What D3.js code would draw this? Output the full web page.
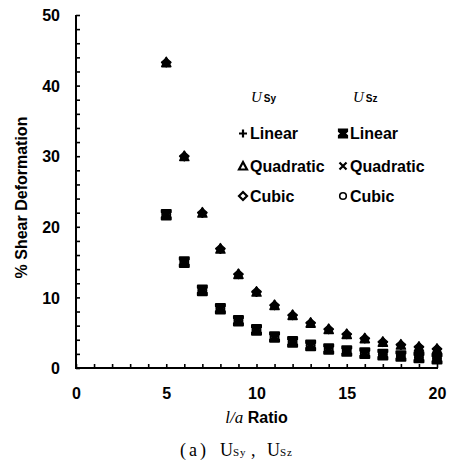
<!DOCTYPE html>
<html>
<head>
<meta charset="utf-8">
<script src="https://cdn.jsdelivr.net/npm/d3@7"></script>
<style>
  html, body { margin: 0; padding: 0; background: #fff; }
  svg { display: block; }
  .sans { font-family: "Liberation Sans", Arial, sans-serif; font-weight: bold; }
  .serif { font-family: "Liberation Serif", "Times New Roman", serif; }
</style>
</head>
<body>
<script>
// l/a ratios
const ratios = [5, 6, 7, 8, 9, 10, 11, 12, 13, 14, 15, 16, 17, 18, 19, 20];
// % shear deformation, U_Sy (linear, quadratic and cubic coincide)
const usy = [43.3, 30.0, 22.0, 16.9, 13.3, 10.8, 8.9, 7.5, 6.4, 5.5, 4.8, 4.2, 3.7, 3.3, 3.0, 2.7];
// % shear deformation, U_Sz (linear, quadratic and cubic coincide)
const usz = [21.7, 15.0, 11.0, 8.4, 6.7, 5.4, 4.4, 3.7, 3.2, 2.7, 2.4, 2.1, 1.9, 1.7, 1.5, 1.3];
const xTicks = d3.range(0, 21, 1);
const yTicks = d3.range(0, 51, 2);
const methods = ["Linear", "Quadratic", "Cubic"];

const W = 451, H = 462;
const svg = d3.select("body").append("svg").attr("width", W).attr("height", H);

const x = d3.scaleLinear().domain([0, 20]).range([76, 437]);
const y = d3.scaleLinear().domain([0, 50]).range([368, 15]);

// marker shapes (path strings centred on 0,0)
const shapes = {
  plus: "M-4.5,0H4.5M0,-4.5V4.5",
  triangle: "M0,-5L4.5,4.3L-4.5,4.3Z",
  diamond: "M0,-4L4.5,0L0,4.3L-4.5,0Z",
  bowtie: "M-4.5,-4.8H4.5V-2.5L1.8,0L4.5,2.5V4.8H-4.5V2.5L-1.8,0L-4.5,-2.5Z",
  cross: "M-4,-4L4,4M4,-4L-4,4",
  circle: "M4,0A4,4 0 1 1 -4,0A4,4 0 1 1 4,0Z"
};

// axes
const xAxis = d3.axisBottom(x).tickValues(xTicks).tickSize(-4).tickPadding(20)
  .tickFormat(d => d % 5 === 0 ? d : "");
const yAxis = d3.axisLeft(y).tickValues(yTicks).tickSize(-4).tickPadding(16)
  .tickFormat(d => d % 10 === 0 ? d : "");

const gx = svg.append("g").attr("transform", `translate(0,${y(0)})`).call(xAxis);
const gy = svg.append("g").attr("transform", `translate(${x(0)},0)`).call(yAxis);
[gx, gy].forEach(g => {
  g.select(".domain").attr("stroke", "#000").attr("stroke-width", 2);
  g.selectAll(".tick line").attr("stroke", "#000").attr("stroke-width", 1.6);
  g.selectAll(".tick text").attr("class", "sans").attr("font-size", 16).attr("fill", "#000");
});
gx.select(".domain").attr("d", `M${x(0) - 1},0H${x(20) + 1}`);
gy.select(".domain").attr("d", `M0,${y(50)}V${y(0) + 1}`);
gy.selectAll(".tick text").attr("dy", "0.36em");

// axis titles
svg.append("text").attr("class", "sans").attr("font-size", 16)
  .attr("transform", `translate(27,${(y(0) + y(50)) / 2 + 6}) rotate(-90)`)
  .attr("text-anchor", "middle").text("% Shear Deformation");

const xt = svg.append("text").attr("class", "sans").attr("font-size", 16)
  .attr("x", (x(0) + x(20)) / 2).attr("y", 423).attr("text-anchor", "middle");
xt.append("tspan").attr("font-family", "Liberation Serif, serif").attr("font-style", "italic")
  .attr("font-weight", "normal").attr("font-size", 17).text("l/a");
xt.append("tspan").text(" Ratio");

// caption
const cap = svg.append("text").attr("class", "serif").attr("font-size", 18).attr("y", 456);
cap.append("tspan").attr("x", 180).attr("letter-spacing", 3).text("(a)");
cap.append("tspan").attr("x", 220).text("U");
cap.append("tspan").attr("font-size", 11).attr("letter-spacing", 1).text("Sy");
cap.append("tspan").attr("x", 251).text(",");
cap.append("tspan").attr("x", 267).text("U");
cap.append("tspan").attr("font-size", 11).attr("letter-spacing", 1).text("Sz");

// data markers
const pts = (vals) => ratios.map((r, i) => ({ r, v: vals[i] }));
function drawSeries(vals, shape, filled, sw = 2) {
  svg.append("g").selectAll("path").data(pts(vals)).join("path")
    .attr("transform", d => `translate(${x(d.r)},${y(d.v)})`)
    .attr("d", shapes[shape])
    .attr("fill", filled ? "#000" : "none")
    .attr("stroke", "#000").attr("stroke-width", sw)
    .attr("stroke-linejoin", "round");
}
drawSeries(usz, "circle", false);
drawSeries(usz, "cross", false);
drawSeries(usz, "bowtie", true);
drawSeries(usy, "plus", false);
drawSeries(usy, "diamond", true, 1.8);
drawSeries(usy, "triangle", true, 1.6);

// legend
const legend = svg.append("g");
const headers = [{ x: 251, sub: "Sy" }, { x: 353, sub: "Sz" }];
headers.forEach(h => {
  const t = legend.append("text").attr("x", h.x).attr("y", 102);
  t.append("tspan").attr("class", "serif").attr("font-style", "italic").attr("font-size", 15).text("U");
  t.append("tspan").attr("class", "sans").attr("font-size", 10).attr("dx", 2).text(h.sub);
});
const legShapes = {
  plus: "M-4,0H4M0,-4V4",
  triangle: "M0,-4L4,3.5L-4,3.5Z",
  diamond: "M0,-4L4,0L0,4L-4,0Z",
  bowtie: "M-4,-4H4V-2.2L1.5,0L4,2.2V4H-4V2.2L-1.5,0L-4,-2.2Z",
  cross: "M-3.5,-3.5L3.5,3.5M3.5,-3.5L-3.5,3.5",
  circle: "M3.3,0A3.3,3.3 0 1 1 -3.3,0A3.3,3.3 0 1 1 3.3,0Z"
};
const cols = [
  { mx: 243, tx: 250, shapes: ["plus", "triangle", "diamond"], fill: [false, false, false] },
  { mx: 343, tx: 350, shapes: ["bowtie", "cross", "circle"], fill: [true, false, false] }
];
const rowY = [133.5, 166, 196];
cols.forEach(c => {
  methods.forEach((m, i) => {
    legend.append("path").attr("transform", `translate(${c.mx},${rowY[i]})`)
      .attr("d", legShapes[c.shapes[i]])
      .attr("fill", c.fill[i] ? "#000" : "none")
      .attr("stroke", "#000").attr("stroke-width", c.shapes[i] === "circle" ? 1.6 : 2.2);
    legend.append("text").attr("class", "sans").attr("font-size", 16)
      .attr("x", c.tx).attr("y", rowY[i] + 5.5).text(m);
  });
});
</script>
</body>
</html>
